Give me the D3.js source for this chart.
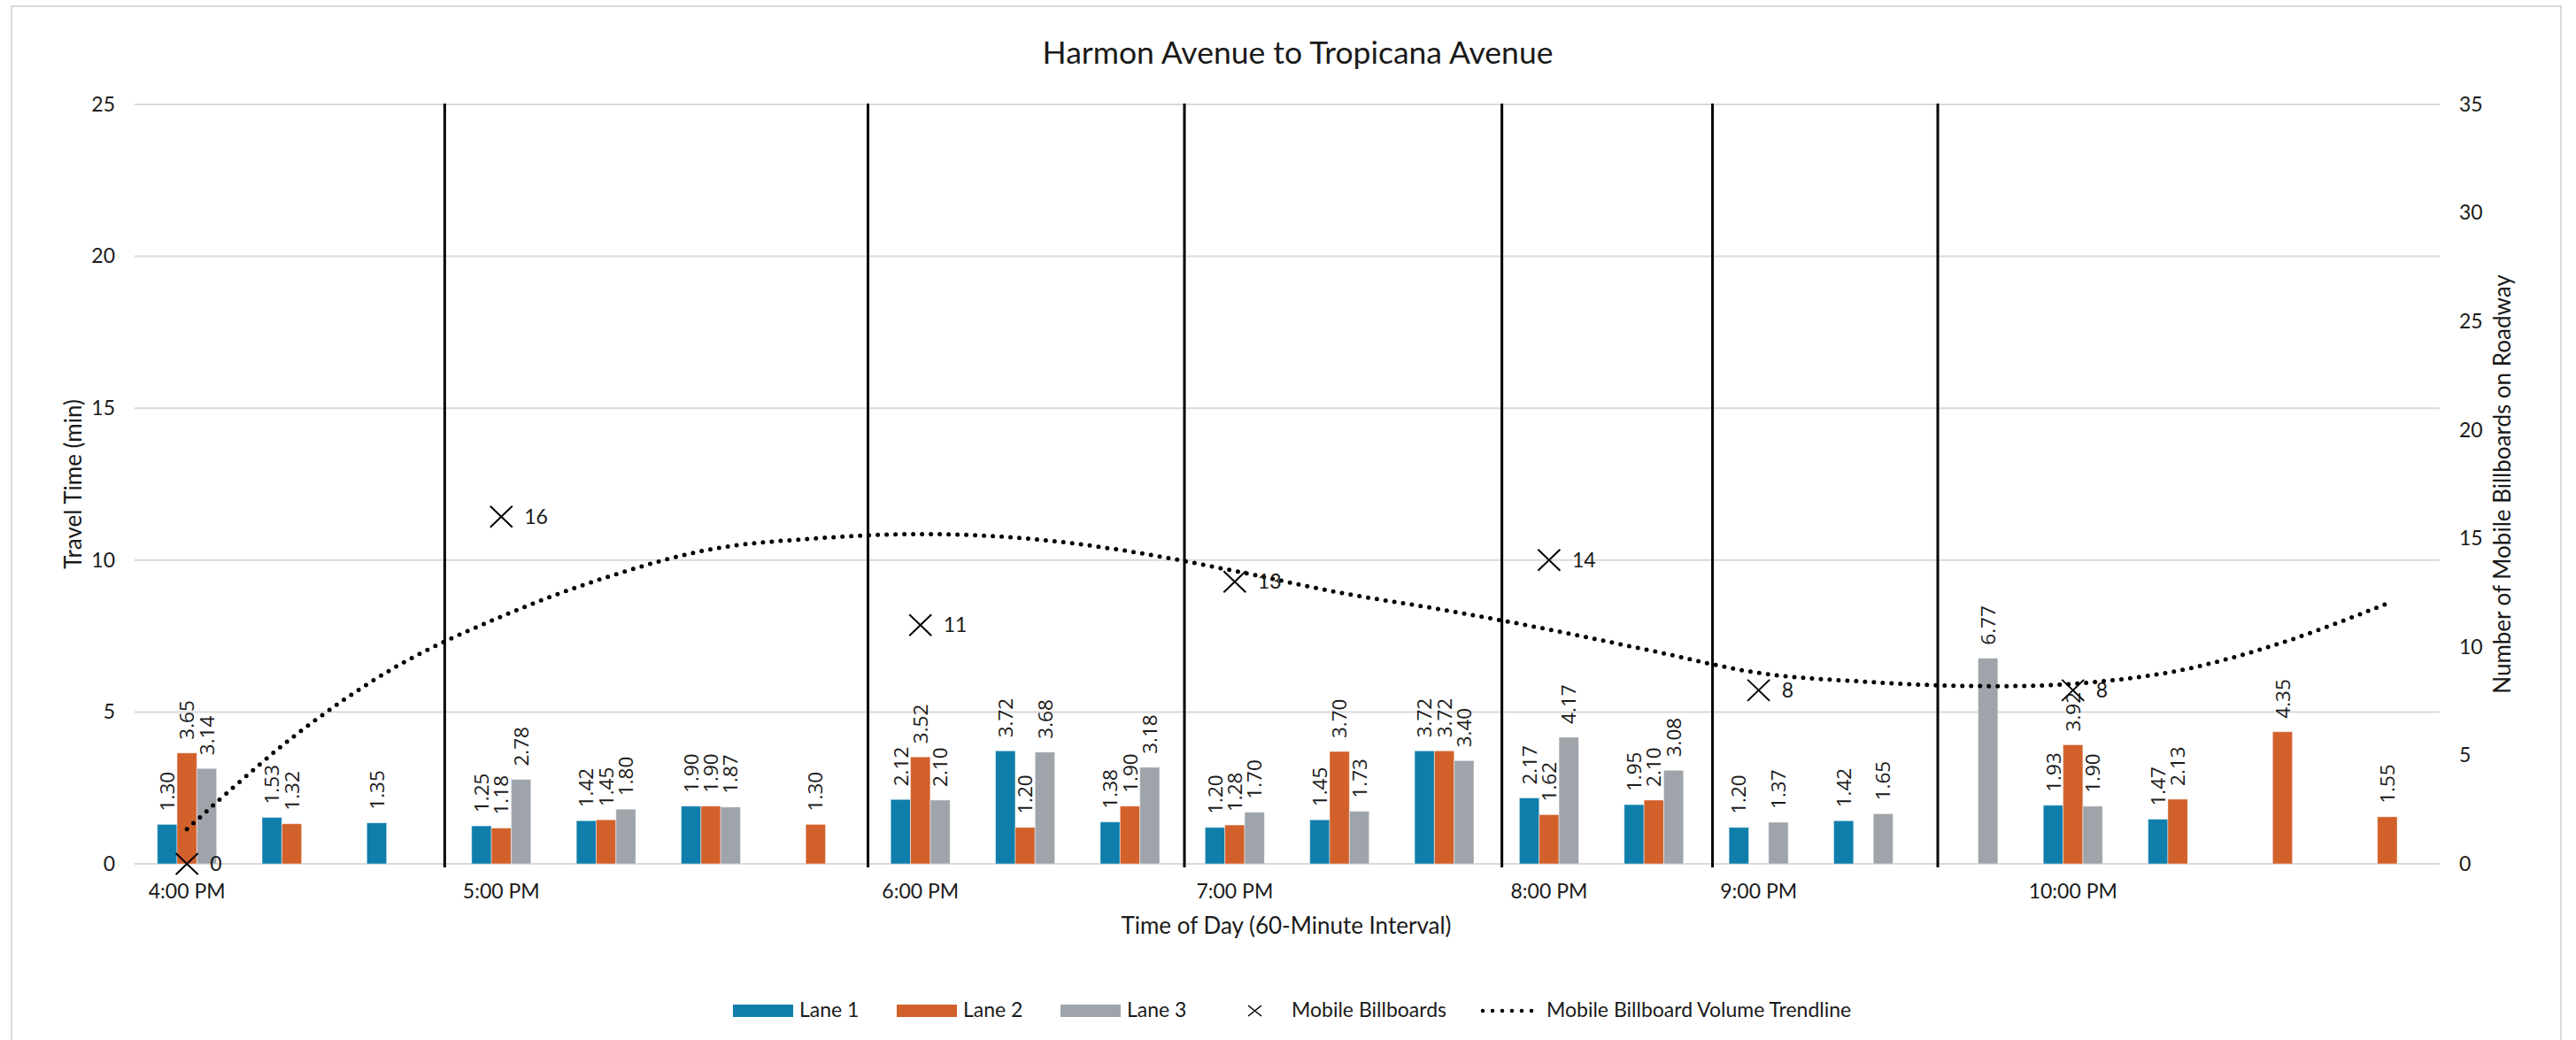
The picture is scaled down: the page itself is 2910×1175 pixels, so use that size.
<!DOCTYPE html>
<html><head><meta charset="utf-8">
<script src="https://cdn.jsdelivr.net/npm/d3@7"></script>
<style>
body{margin:0;background:#fff;}
svg text{font-family:Lato,"Open Sans",sans-serif;fill:#1a1a1a;}
</style>
</head><body>
<svg id="chart" width="2910" height="1175"></svg>
<script>
// ---------------- data ----------------
const chartTitle = "Harmon Avenue to Tropicana Avenue";
const xTitle = "Time of Day (60-Minute Interval)";
const yLeftTitle = "Travel Time (min)";
const yRightTitle = "Number of Mobile Billboards on Roadway";
const tickLabels = ["4:00 PM","","","5:00 PM","","","","6:00 PM","","","7:00 PM","","","8:00 PM","","9:00 PM","","","10:00 PM","","",""];
const categories = tickLabels.map((t, i) => i);
const lanes = ["Lane 1", "Lane 2", "Lane 3"];
const lane1 = [1.30,1.53,1.35,1.25,1.42,1.90,null,2.12,3.72,1.38,1.20,1.45,3.72,2.17,1.95,1.20,1.42,null,1.93,1.47,null,null];
const lane2 = [3.65,1.32,null,1.18,1.45,1.90,1.30,3.52,1.20,1.90,1.28,3.70,3.72,1.62,2.10,null,null,null,3.92,2.13,4.35,1.55];
const lane3 = [3.14,null,null,2.78,1.80,1.87,null,2.10,3.68,3.18,1.70,1.73,3.40,4.17,3.08,1.37,1.65,6.77,1.90,null,null,null];
const billboards = [0,null,null,16,null,null,null,11,null,null,13,null,null,14,null,8,null,null,8,null,null,null];
const trendline = [1.6,5.8,9.1,11.4,13.2,14.5,15.0,15.2,15.0,14.4,13.5,12.5,11.7,10.8,9.8,8.8,8.4,8.2,8.3,8.9,10.2,12.0];
const separators = [2.96,7.0,10.02,13.05,15.06,17.21]; // in category units
const leftTicks = [0,5,10,15,20,25];
const rightTicks = [0,5,10,15,20,25,30,35];
const laneColors = ["#0F7EAB", "#D2602B", "#9EA4AA"];
const laneSeries = [lane1, lane2, lane3];

// ---------------- layout ----------------
const svg = d3.select("#chart");
const plot = {left: 152, right: 2756, top: 118, bottom: 976};

svg.append("rect").attr("x", 13).attr("y", 7).attr("width", 2880).attr("height", 1200)
  .attr("fill", "#fff").attr("stroke", "#d9d9d9").attr("stroke-width", 2);

const x = d3.scaleBand().domain(categories).range([plot.left, plot.right]).padding(0);
const xPos = d3.scaleLinear().domain([0, categories.length]).range([plot.left, plot.right]);
const yL = d3.scaleLinear().domain([0, 25]).range([plot.bottom, plot.top]);
const yR = d3.scaleLinear().domain([0, 35]).range([plot.bottom, plot.top]);
const groupW = 67;
const xs = d3.scaleBand().domain(lanes)
  .range([(x.bandwidth() - groupW) / 2, (x.bandwidth() + groupW) / 2]);
const cx = i => x(i) + x.bandwidth() / 2;

// gridlines
svg.append("g").selectAll("line").data(leftTicks).join("line")
  .attr("x1", plot.left).attr("x2", plot.right)
  .attr("y1", d => yL(d)).attr("y2", d => yL(d))
  .attr("stroke", "#d9d9d9").attr("stroke-width", 2);

// axes
const axL = svg.append("g").attr("transform", `translate(${plot.left},0)`)
  .call(d3.axisLeft(yL).tickValues(leftTicks).tickSize(0).tickPadding(22));
const axR = svg.append("g").attr("transform", `translate(${plot.right},0)`)
  .call(d3.axisRight(yR).tickValues(rightTicks).tickSize(0).tickPadding(22));
const axB = svg.append("g").attr("transform", `translate(0,${plot.bottom})`)
  .call(d3.axisBottom(x).tickFormat(i => tickLabels[i]).tickSize(0).tickPadding(23));
[axL, axR, axB].forEach(g => {
  g.select(".domain").remove();
  g.selectAll("text").attr("font-family", "Lato, 'Open Sans', sans-serif")
    .attr("font-size", 23).attr("fill", "#1a1a1a");
});

// bars
laneSeries.forEach((series, li) => {
  const data = series.map((v, i) => ({i, v})).filter(d => d.v !== null);
  svg.append("g").selectAll("rect").data(data).join("rect")
    .attr("x", d => x(d.i) + xs(lanes[li]))
    .attr("width", xs.bandwidth())
    .attr("y", d => yL(d.v))
    .attr("height", d => yL(0) - yL(d.v))
    .attr("fill", laneColors[li])
    .attr("stroke", "#fff").attr("stroke-opacity", 0.45).attr("stroke-width", 1);
});

// data labels
const fmt = d3.format(".2f");
laneSeries.forEach((series, li) => {
  const data = series.map((v, i) => ({i, v})).filter(d => d.v !== null);
  svg.append("g").selectAll("text").data(data).join("text")
    .attr("transform", d => `translate(${x(d.i) + xs(lanes[li]) + xs.bandwidth() / 2},${yL(d.v) - 15}) rotate(-90)`)
    .attr("dy", "0.36em")
    .style("font-family", "'Open Sans', Lato, sans-serif")
    .attr("font-size", 22.5)
    .text(d => fmt(d.v));
});

// separators
svg.append("g").selectAll("line").data(separators).join("line")
  .attr("x1", d => xPos(d)).attr("x2", d => xPos(d))
  .attr("y1", plot.top - 1).attr("y2", plot.bottom + 4)
  .attr("stroke", "#000").attr("stroke-width", 3);

// trendline
const line = d3.line().x((d, i) => cx(i)).y(d => yR(d)).curve(d3.curveCatmullRom.alpha(0.5));
svg.append("path").datum(trendline).attr("d", line)
  .attr("fill", "none").attr("stroke", "#000").attr("stroke-width", 5)
  .attr("stroke-linecap", "round").attr("stroke-dasharray", "0 10");

// billboard markers
const bb = billboards.map((v, i) => ({i, v})).filter(d => d.v !== null);
const mk = svg.append("g").selectAll("g").data(bb).join("g")
  .attr("transform", d => `translate(${cx(d.i)},${yR(d.v)})`);
mk.append("path").attr("d", "M-12.5,-12 L12.5,12 M-12.5,12 L12.5,-12")
  .attr("stroke", "#000").attr("stroke-width", 2).attr("fill", "none");
mk.append("text").attr("x", 26).attr("dy", "0.35em").attr("font-size", 23).text(d => d.v);

// titles
svg.append("text").attr("x", 1466).attr("y", 72).attr("text-anchor", "middle")
  .attr("font-size", 35.5).text(chartTitle);
svg.append("text").attr("x", 1453).attr("y", 1055).attr("text-anchor", "middle")
  .attr("font-size", 26).text(xTitle);
svg.append("text").attr("transform", "translate(92,547) rotate(-90)").attr("text-anchor", "middle")
  .attr("font-size", 26).text(yLeftTitle);
svg.append("text").attr("transform", "translate(2836,547) rotate(-90)").attr("text-anchor", "middle")
  .attr("font-size", 26).text(yRightTitle);

// legend
const lg = svg.append("g").attr("font-size", 23);
const laneLegX = [828, 1013, 1198];
lanes.forEach((name, li) => {
  lg.append("rect").attr("x", laneLegX[li]).attr("y", 1135).attr("width", 68).attr("height", 14)
    .attr("fill", laneColors[li]);
  lg.append("text").attr("x", laneLegX[li] + 75).attr("y", 1149).text(name);
});
lg.append("path").attr("d", "M1410,1136 L1425,1148 M1410,1148 L1425,1136")
  .attr("stroke", "#000").attr("stroke-width", 1.6);
lg.append("text").attr("x", 1459).attr("y", 1149).text("Mobile Billboards");
lg.append("line").attr("x1", 1675).attr("x2", 1741).attr("y1", 1142).attr("y2", 1142)
  .attr("stroke", "#000").attr("stroke-width", 4.5).attr("stroke-linecap", "round")
  .attr("stroke-dasharray", "0 11");
lg.append("text").attr("x", 1747).attr("y", 1149).text("Mobile Billboard Volume Trendline");
</script>
</body></html>
